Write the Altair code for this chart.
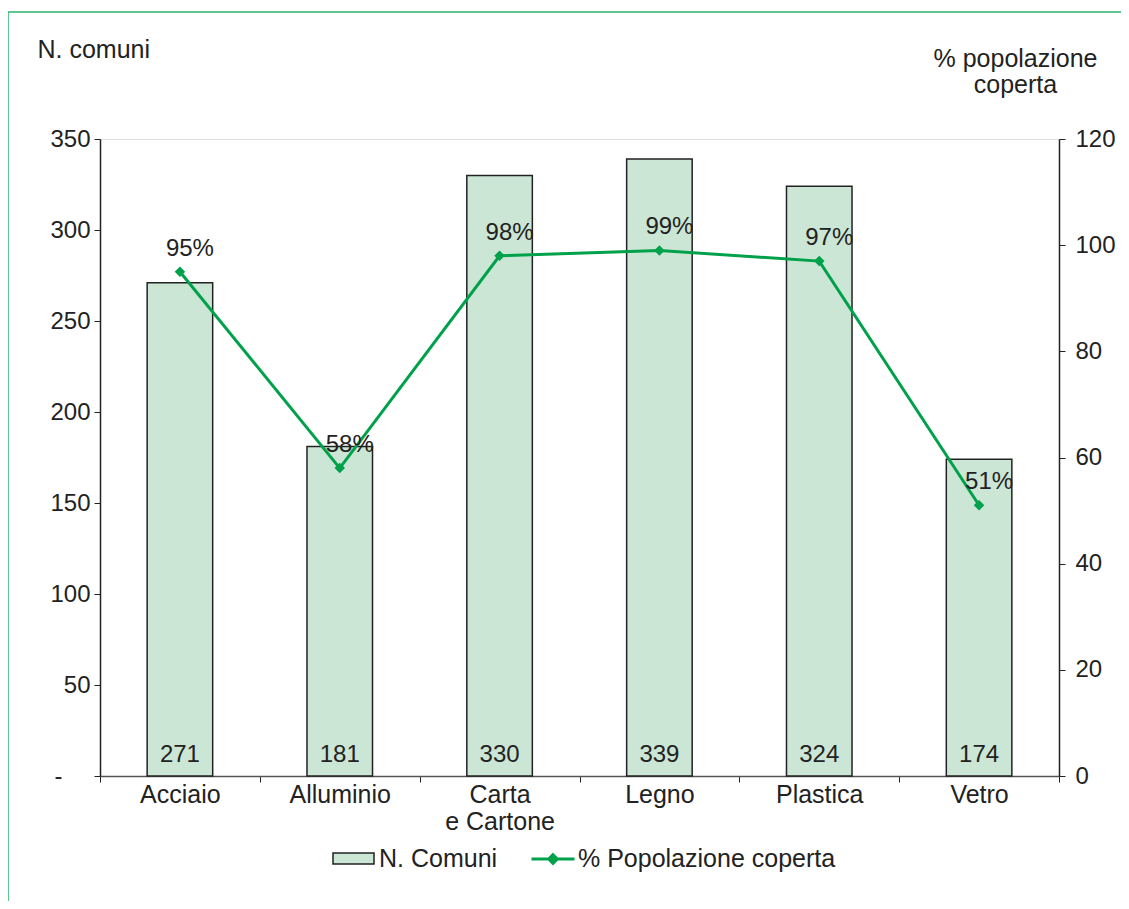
import altair as alt
import pandas as pd

categorie = ["Acciaio", "Alluminio", "Carta e Cartone", "Legno", "Plastica", "Vetro"]
n_comuni = [271, 181, 330, 339, 324, 174]
perc_popolazione = [95, 58, 98, 99, 97, 51]
perc_etichette = ["95%", "58%", "98%", "99%", "97%", "51%"]
serie_barre = "N. Comuni"
serie_linea = "% Popolazione coperta"
tick_sx = [0, 50, 100, 150, 200, 250, 300, 350]
tick_dx = [0, 20, 40, 60, 80, 100, 120]

df = pd.DataFrame({
    "cat": categorie,
    "n": n_comuni,
    "p": perc_popolazione,
    "plab": perc_etichette,
    "s_bar": serie_barre,
    "s_line": serie_linea,
})

FONT = "Liberation Sans"
GREEN = "#00a14b"
BARFILL = "#cbe6d4"
DARK = "#222222"

x_enc = alt.X(
    "cat:N",
    sort=categorie,
    scale=alt.Scale(paddingInner=0, paddingOuter=0),
    axis=alt.Axis(
        title=None,
        labelAngle=0,
        labelFontSize=25,
        labelFont=FONT,
        labelColor=DARK,
        labelPadding=0,
        labelLineHeight=27,
        labelBaseline="top",
        tickBand="extent",
        tickSize=6,
        tickColor=DARK,
        domainColor="#555555",
        domainWidth=1.5,
        labelExpr="datum.label == 'Carta e Cartone' ? ['Carta', 'e Cartone'] : datum.label",
    ),
)

y_left = alt.Y(
    "n:Q",
    scale=alt.Scale(domain=[0, 350]),
    axis=alt.Axis(
        values=tick_sx,
        labelExpr="datum.value == 0 ? '-' : datum.label",
        labelFontSize=24,
        labelFont=FONT,
        labelColor=DARK,
        labelPadding={"condition": {"test": "datum.value == 0", "value": 32}, "value": 4},
        tickSize=6,
        tickColor=DARK,
        domainColor=DARK,
        domainWidth=1.5,
        grid=False,
        title="N. comuni",
        titleAngle=0,
        titleAlign="left",
        titleBaseline="alphabetic",
        titleX=-63,
        titleY=-82,
        titleFont=FONT,
        titleFontSize=25,
        titleFontWeight="normal",
        titleColor=DARK,
    ),
)

y_right = alt.Y(
    "p:Q",
    scale=alt.Scale(domain=[0, 120]),
    axis=alt.Axis(
        orient="right",
        values=tick_dx,
        labelFontSize=24,
        labelFont=FONT,
        labelColor=DARK,
        labelPadding=10,
        tickSize=6,
        tickColor=DARK,
        domainColor=DARK,
        domainWidth=1.5,
        grid=False,
        title=["% popolazione", "coperta"],
        titleAngle=0,
        titleAlign="center",
        titleBaseline="alphabetic",
        titleLineHeight=26,
        titleX=-44,
        titleY=-73,
        titleFont=FONT,
        titleFontSize=25,
        titleFontWeight="normal",
        titleColor=DARK,
    ),
)

base = alt.Chart(df)

bars = base.mark_bar(
    width=alt.RelativeBandSize(0.41), stroke=DARK, strokeWidth=1.5
).encode(
    x=x_enc,
    y=y_left,
    fill=alt.Fill(
        "s_bar:N",
        scale=alt.Scale(range=[BARFILL]),
        legend=alt.Legend(
            title=None,
            orient="none",
            legendX=232,
            legendY=698,
            padding=0,
            symbolType="M-1,-0.27H1V0.27H-1Z",
            symbolSize=1681,
            symbolStrokeColor=DARK,
            symbolStrokeWidth=1.5,
            symbolFillColor=BARFILL,
            labelFont=FONT,
            labelFontSize=25,
            labelColor=DARK,
            labelOffset=4,
            labelLimit=0,
        ),
    ),
)

bar_text = base.mark_text(
    font=FONT, fontSize=24, color=DARK, baseline="alphabetic", dy=-14
).encode(
    x=x_enc,
    y=alt.datum(0),
    text="n:Q",
)

left = alt.layer(bars, bar_text)

line = base.mark_line(strokeWidth=3).encode(
    x=x_enc,
    y=y_right,
    color=alt.Color(
        "s_line:N",
        scale=alt.Scale(range=[GREEN]),
        legend=alt.Legend(
            title=None,
            orient="none",
            legendX=430,
            legendY=697,
            padding=0,
            symbolType="M-1,0H1M0,-0.2L0.2,0L0,0.2L-0.2,0Z",
            symbolSize=1849,
            symbolStrokeColor=GREEN,
            symbolFillColor=GREEN,
            symbolStrokeWidth=3,
            labelFont=FONT,
            labelFontSize=25,
            labelColor=DARK,
            labelOffset=2,
            labelLimit=0,
        ),
    ),
)

points = base.mark_point(shape="diamond", filled=True, size=110, opacity=1).encode(
    x=x_enc,
    y=y_right,
    color=alt.Color("s_line:N", scale=alt.Scale(range=[GREEN])),
)

pct_text = base.mark_text(
    font=FONT, fontSize=24, color=DARK, baseline="alphabetic", dy=-16, dx=10
).encode(
    x=x_enc,
    y=y_right,
    text="plab:N",
)

right = alt.layer(line, points, pct_text)

frame_df = pd.DataFrame({"k": [0]})
frame_top = alt.Chart(frame_df).mark_rule(color="#2bb36b", strokeWidth=1.5).encode(
    x=alt.value(-92), x2=alt.value(1040), y=alt.value(-127), y2=alt.value(-127)
)
frame_left = alt.Chart(frame_df).mark_rule(color="#2bb36b", strokeWidth=1.5).encode(
    x=alt.value(-92), x2=alt.value(-92), y=alt.value(-127), y2=alt.value(800)
)

chart = (
    alt.layer(left, right, frame_top, frame_left)
    .resolve_scale(y="independent")
    .properties(
        width=959,
        height=637,
        autosize=alt.AutoSizeParams(type="none"),
        padding={"left": 92, "top": 131, "right": 62, "bottom": 125},
    )
    .configure_view(stroke="#666666", strokeWidth=1.5)
    .configure(font=FONT)
)

chart.save("out.html", embed_options={"renderer": "svg", "actions": False})
